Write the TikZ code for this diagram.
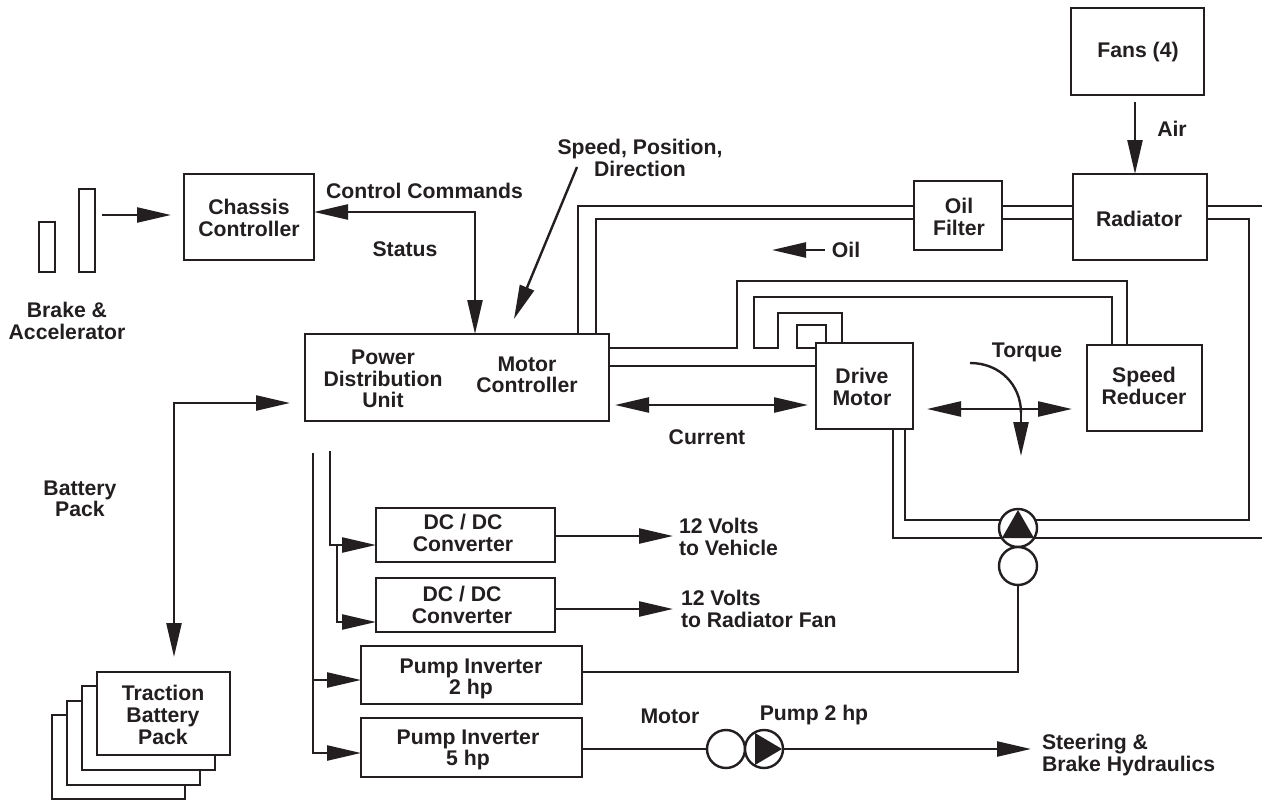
\documentclass[tikz,border=0pt]{standalone}
\usepackage{fontspec}
\setmainfont{Liberation Sans}[BoldFont={Liberation Sans Bold}]
\usetikzlibrary{arrows.meta}
\definecolor{ink}{HTML}{231F20}
\tikzset{
  ln/.style={draw=ink,line width=2.4pt,line cap=butt,line join=miter},
  arr/.style={ln,-{Triangle[length=34pt,width=15pt]}},
  darr/.style={ln,{Triangle[length=34pt,width=15pt]}-{Triangle[length=34pt,width=15pt]}},
  boxn/.style={ln,fill=white,inner sep=0pt,outer sep=0pt},
  lbl/.style={text=ink,inner sep=0pt,outer sep=0pt,align=center,font=\fontsize{21.2pt}{21.6pt}\selectfont\bfseries},
  lbll/.style={lbl,align=left,anchor=west},
  pumpc/.style={ln,fill=white,circle,minimum size=38pt,inner sep=0pt,outer sep=0pt},
  solid tri/.style={fill=ink,draw=none}
}
\begin{document}
\begin{tikzpicture}[x=1pt,y=-1pt]
\useasboundingbox[fill=white] (0,0) rectangle (1262,800);
% boxes
\node[boxn,minimum width=133pt,minimum height=87pt] (fans) at (1137.5,51.5) {};
\node[boxn,minimum width=134pt,minimum height=86pt] (rad) at (1140,217) {};
\node[boxn,minimum width=88pt,minimum height=69pt] (filter) at (958,215.5) {};
\node[boxn,minimum width=130pt,minimum height=86pt] (chassis) at (249,217) {};
\node[boxn,minimum width=304pt,minimum height=87pt] (ctrl) at (457,377.5) {};
\node[boxn,minimum width=97pt,minimum height=86pt] (motor) at (864.5,386) {};
\node[boxn,minimum width=115pt,minimum height=86pt] (reducer) at (1144.5,388) {};
\node[boxn,minimum width=16pt,minimum height=50pt] (pedalA) at (47,247) {};
\node[boxn,minimum width=16pt,minimum height=83pt] (pedalB) at (87,230.5) {};
\node[boxn,minimum width=179pt,minimum height=54pt] (dcA) at (465.5,535) {};
\node[boxn,minimum width=179pt,minimum height=54pt] (dcB) at (465.5,605) {};
\node[boxn,minimum width=221pt,minimum height=58pt] (invA) at (471.5,675) {};
\node[boxn,minimum width=221pt,minimum height=59pt] (invB) at (471.5,747.5) {};
\node[boxn,minimum width=133pt,minimum height=84pt] (packD) at (118.5,757) {};
\node[boxn,minimum width=133pt,minimum height=84pt] (packC) at (133.5,743) {};
\node[boxn,minimum width=133pt,minimum height=84pt] (packB) at (148.5,728) {};
\node[boxn,minimum width=133pt,minimum height=83pt] (packA) at (163.5,713.5) {};
% free ends
\coordinate (pedalOut) at (102,215);
\coordinate (pedalTip) at (171,215);
\coordinate (cmdCorner) at (475,212);
\coordinate (speedIn) at (577,167);
\coordinate (speedTip) at (514,319);
\coordinate (fanOut) at (1135,102);
\coordinate (oilFrom) at (825,250);
\coordinate (oilTip) at (772,250);
\coordinate (curL) at (615,405);
\coordinate (curR) at (808,405);
\coordinate (torL) at (927,409);
\coordinate (torR) at (1072,409);
\coordinate (torS) at (970,363);
\coordinate (torE) at (1021,413);
\coordinate (torTip) at (1021,456);
\coordinate (battTip) at (174,657);
\coordinate (pduTip) at (290,403);
\coordinate (busA) at (313,453);
\coordinate (busB) at (330,451);
\coordinate (tipA) at (673,536);
\coordinate (tipB) at (673,609);
\coordinate (tipC) at (1031,749);
\coordinate (edgeA) at (1262,206);
\coordinate (edgeB) at (1262,538);
% oil pipes
\draw[ln] (578,0 |- ctrl.north) -- (578,206) -- (filter.west |- 0,206);
\draw[ln] (596,0 |- ctrl.north) -- (596,219) -- (filter.west |- 0,219);
\draw[ln] (filter.east |- 0,206) -- (rad.west |- 0,206);
\draw[ln] (filter.east |- 0,219) -- (rad.west |- 0,219);
\draw[ln] (rad.east |- 0,206) -- (edgeA);
\draw[ln] (rad.east |- 0,219) -- (1249,219) -- (1249,520) -- (905,520) -- (905,0 |- motor.south);
\draw[ln] (edgeB) -- (893,538) -- (893,0 |- motor.south);
\draw[ln] (ctrl.east |- 0,348) -- (737,348) -- (737,281) -- (1127,281) -- (1127,0 |- reducer.north);
\draw[ln] (1112,0 |- reducer.north) -- (1112,297) -- (754,297) -- (754,348) -- (778,348) -- (778,313) -- (842,313) -- (842,0 |- motor.north);
\draw[ln] (motor.west |- 0,348) -- (797,348) -- (797,325) -- (826,325) -- (826,0 |- motor.north);
\draw[ln] (ctrl.east |- 0,366) -- (motor.west |- 0,366);
% pump symbols
\node[pumpc] (pumpTop) at (1018,528) {};
\node[pumpc] (pumpLow) at (1018,566) {};
\node[pumpc] (pumpMot) at (726,749) {};
\node[pumpc] (pumpHyd) at (764,749) {};
\fill[solid tri] (1018,510) -- (1034,538) -- (1002,538) -- cycle;
\fill[solid tri] (755,733) -- (782,749) -- (755,765) -- cycle;
% arrows
\draw[arr] (pedalOut) -- (pedalTip);
\draw[darr] (chassis.east |- cmdCorner) -- (cmdCorner) -- (cmdCorner |- ctrl.north);
\draw[arr] (speedIn) -- (speedTip);
\draw[arr] (fanOut) -- (fanOut |- rad.north);
\draw[arr] (oilFrom) -- (oilTip);
\draw[darr] (curL) -- (curR);
\draw[darr] (torL) -- (torR);
\draw[ln] (torS) .. controls (1000,363) and (1021,385) .. (torE);
\draw[arr] (torE) -- (torTip);
\draw[darr] (battTip) |- (pduTip);
\draw[arr] (busA) |- (invB.west |- 0,753);
\draw[arr] (busA |- 0,680) -- (invA.west |- 0,680);
\draw[arr] (busB) |- (dcA.west |- 0,545);
\draw[arr] (337,545) |- (dcB.west |- 0,622);
\draw[arr] (dcA.east |- tipA) -- (tipA);
\draw[arr] (dcB.east |- tipB) -- (tipB);
\draw[ln] (invA.east |- 0,672) -| (pumpLow.south);
\draw[ln] (invB.east |- 0,749) -- (pumpMot.west);
\draw[arr] (pumpHyd.east) -- (tipC);
% labels
\node[lbl] (tFans) at (1138,52) {Fans (4)};
\node[lbl] (tAir) at (1172,129) {Air};
\node[lbl] (tRad) at (1139,219) {Radiator};
\node[lbl] (tFilter) at (959,217) {Oil\\Filter};
\node[lbl] (tSpeed) at (640,158) {Speed, Position,\\Direction};
\node[lbl] (tCmd) at (424.5,191) {Control Commands};
\node[lbl] (tStatus) at (405,249) {Status};
\node[lbl] (tOil) at (846,250) {Oil};
\node[lbl] (tChassis) at (249,218) {Chassis\\Controller};
\node[lbl] (tBrake) at (67,321) {Brake \&\\Accelerator};
\node[lbl] (tPDU) at (383,379) {Power\\Distribution\\Unit};
\node[lbl] (tMC) at (527,375) {Motor\\Controller};
\node[lbl] (tDrive) at (862,387) {Drive\\Motor};
\node[lbl] (tTorque) at (1027,352) {Torque};
\node[lbl] (tReducer) at (1144,386) {Speed\\Reducer};
\node[lbl] (tCurrent) at (707,437) {Current};
\node[lbl] (tBatt) at (80,499) {Battery\\Pack};
\node[lbl] (tDCA) at (463,533) {DC / DC\\Converter};
\node[lbl] (tDCB) at (462,605) {DC / DC\\Converter};
\node[lbl] (tInvA) at (471,679) {Pump Inverter\\2 hp};
\node[lbl] (tInvB) at (468,750) {Pump Inverter\\5 hp};
\node[lbll] (tVeh) at (679,537) {12 Volts\\to Vehicle};
\node[lbll] (tFan) at (681,609) {12 Volts\\to Radiator Fan};
\node[lbl] (tMotor) at (670,716) {Motor};
\node[lbl] (tPump) at (814,715) {Pump 2 hp};
\node[lbll] (tSteer) at (1042,755) {Steering \&\\Brake Hydraulics};
\node[lbl] (tPack) at (163,715) {Traction\\Battery\\Pack};
\end{tikzpicture}
\end{document}
